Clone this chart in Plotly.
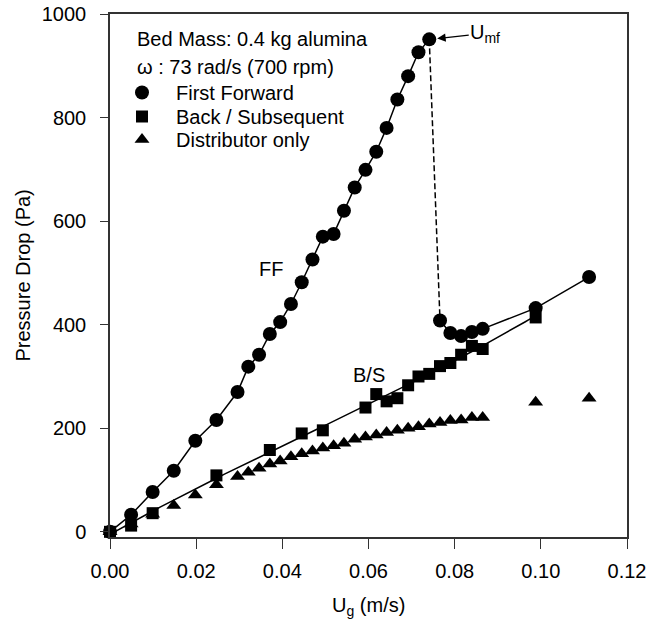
import numpy as np
import plotly.graph_objects as go

# ---------------- data ----------------
# First Forward (increasing flow up to Umf)
x_ff = [0.0, 0.0049, 0.0099, 0.0148, 0.0198, 0.0247, 0.0296, 0.0321, 0.0346, 0.0371,
        0.0395, 0.0420, 0.0445, 0.0470, 0.0494, 0.0519, 0.0543, 0.0568, 0.0593, 0.0618,
        0.0642, 0.0667, 0.0692, 0.0716, 0.0741]
y_ff = [0, 33, 77, 118, 176, 216, 270, 319, 342, 382,
        405, 440, 482, 526, 570, 575, 620, 665, 699, 734,
        780, 835, 880, 926, 951]
# First Forward after fluidization
x_ff_post = [0.0766, 0.0790, 0.0815, 0.0840, 0.0865, 0.0988, 0.1112]
y_ff_post = [408, 384, 378, 386, 392, 432, 492]
# Back / Subsequent
x_bs = [0.0, 0.0049, 0.0099, 0.0247, 0.0371, 0.0445, 0.0494, 0.0593, 0.0618, 0.0642,
        0.0667, 0.0692, 0.0716, 0.0741, 0.0766, 0.0790, 0.0815, 0.0840, 0.0865, 0.0988]
y_bs = [0, 12, 36, 109, 158, 190, 196, 240, 266, 252,
        258, 283, 300, 305, 320, 326, 342, 359, 353, 414]
# Distributor only
x_dist = [0.0, 0.0049, 0.0099, 0.0148, 0.0198, 0.0247, 0.0296, 0.0321, 0.0346, 0.0371,
          0.0395, 0.0420, 0.0445, 0.0470, 0.0494, 0.0519, 0.0543, 0.0568, 0.0593, 0.0618,
          0.0642, 0.0667, 0.0692, 0.0716, 0.0741, 0.0766, 0.0790, 0.0815, 0.0840, 0.0865,
          0.0988, 0.1112]
y_dist = [0, 15, 34, 51, 71, 91, 107, 115, 123, 131,
          137, 145, 151, 156, 162, 166, 171, 179, 183, 187,
          192, 196, 200, 203, 208, 211, 215, 216, 221, 221,
          250, 258]

x_ticks = [0.00, 0.02, 0.04, 0.06, 0.08, 0.10, 0.12]
x_ticklabels = ["0.00", "0.02", "0.04", "0.06", "0.08", "0.10", "0.12"]
y_ticks = [0, 200, 400, 600, 800, 1000]

FONT = "Liberation Sans, Arial, Helvetica, sans-serif"
FS = 20

# smooth trend line through Back/Subsequent points
coef = np.polyfit(x_bs, y_bs, 3)
xf = np.linspace(min(x_bs), max(x_bs), 120)
yf = np.polyval(coef, xf)

fig = go.Figure()

# lines
fig.add_trace(go.Scatter(x=x_ff, y=y_ff, mode="lines", line=dict(color="black", width=1.5),
                         showlegend=False, hoverinfo="skip", cliponaxis=False))
fig.add_trace(go.Scatter(x=[x_ff[-1], x_ff_post[0]], y=[y_ff[-1], y_ff_post[0]], mode="lines",
                         line=dict(color="black", width=1.5, dash="6px,3px"),
                         showlegend=False, hoverinfo="skip"))
fig.add_trace(go.Scatter(x=x_ff_post, y=y_ff_post, mode="lines", line=dict(color="black", width=1.5),
                         showlegend=False, hoverinfo="skip"))
fig.add_trace(go.Scatter(x=xf, y=yf, mode="lines", line=dict(color="black", width=1.5),
                         showlegend=False, hoverinfo="skip", cliponaxis=False))

# markers (each in its own legend so rows can be spaced like the original)
fig.add_trace(go.Scatter(x=x_dist, y=y_dist, mode="markers", name="Distributor only",
                         marker=dict(symbol="triangle-up", size=13, color="black"),
                         cliponaxis=False, legend="legend3"))
fig.add_trace(go.Scatter(x=x_bs, y=y_bs, mode="markers", name="Back / Subsequent",
                         marker=dict(symbol="square", size=12, color="black"),
                         cliponaxis=False, legend="legend2"))
fig.add_trace(go.Scatter(x=x_ff + x_ff_post, y=y_ff + y_ff_post, mode="markers", name="First Forward",
                         marker=dict(symbol="circle", size=14, color="black"),
                         cliponaxis=False, legend="legend"))

L, T, R, B = 110, 14, 19, 86
W, H = 646, 623
pw, ph = W - L - R, H - T - B

def px(xp):
    return (xp - L) / pw

def py(yp):
    return (H - B - yp) / ph

annotations = [
    dict(text="Bed Mass: 0.4 kg alumina", xref="paper", yref="paper", x=px(135), y=py(39),
         xanchor="left", yanchor="middle", showarrow=False),
    dict(text="ω : 73 rad/s (700 rpm)", xref="paper", yref="paper", x=px(135), y=py(67),
         xanchor="left", yanchor="middle", showarrow=False),
    dict(text="FF", x=0.0374, y=508, xref="x", yref="y", showarrow=False),
    dict(text="B/S", x=0.0601, y=302, xref="x", yref="y", showarrow=False),
    dict(text="U<sub>mf</sub>", x=x_ff[-1], y=y_ff[-1], xref="x", yref="y",
         showarrow=True, ax=56, ay=-6, arrowhead=2, arrowsize=1.3, arrowwidth=1.3,
         arrowcolor="black", standoff=8, xanchor="center", yanchor="middle"),
    dict(text="U<sub>g</sub> (m/s)", xref="paper", yref="paper", x=px(368), y=py(606),
         xanchor="center", yanchor="middle", showarrow=False),
    dict(text="Pressure Drop (Pa)", xref="paper", yref="paper", x=px(22), y=0.5,
         xanchor="center", yanchor="middle", showarrow=False, textangle=-90),
]

def leg(top):
    return dict(x=px(108), y=py(top), xanchor="left", yanchor="top",
                bgcolor="rgba(0,0,0,0)", borderwidth=0, font=dict(size=FS),
                itemwidth=58)

fig.update_layout(
    width=W, height=H,
    margin=dict(l=L, r=R, t=T, b=B, autoexpand=False),
    paper_bgcolor="white", plot_bgcolor="white",
    font=dict(family=FONT, size=FS, color="black"),
    annotations=annotations,
    showlegend=True,
    legend=leg(73), legend2=leg(97), legend3=leg(120),
)

fig.update_xaxes(range=[0, 0.12], tickvals=x_ticks, ticktext=x_ticklabels,
                 showgrid=False, zeroline=False, showline=True, linecolor="#333", linewidth=1.5,
                 mirror=True, ticks="outside", ticklen=10, tickwidth=1.2, tickcolor="#333",
                 ticklabelstandoff=5, ticklabeloverflow="allow", automargin=False)
fig.update_yaxes(range=[-10, 1000], tickvals=y_ticks,
                 showgrid=False, zeroline=False, showline=True, linecolor="#333", linewidth=1.5,
                 mirror=True, ticks="outside", ticklen=8, tickwidth=1.2, tickcolor="#333",
                 ticklabelstandoff=10, automargin=False)

post = ("document.body.style.margin='0';document.body.style.padding='0';"
        "var gd=document.getElementById('{plot_id}');"
        "gd.style.position='absolute';gd.style.left='0px';gd.style.top='0px';")

fig.write_html("out.html", config={"displayModeBar": False}, post_script=post)
